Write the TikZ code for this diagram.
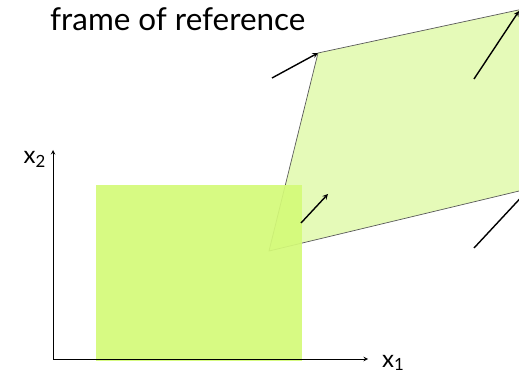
\documentclass[tikz,border=0pt]{standalone}
\usepackage{fontspec}
\setmainfont{Lato}
\definecolor{limesq}{HTML}{D4FA78}
\definecolor{limepg}{HTML}{E5FAB8}
\tikzset{
  vec/.style={->, >=stealth, line width=1.4pt},
  axis/.style={->, >=stealth, line width=1pt},
  lbl/.style={font=\fontsize{24}{26}\selectfont, inner sep=0pt}
}
\begin{document}
\begin{tikzpicture}[x=1pt, y=-1pt]
        \useasboundingbox (0,0) rectangle (519,374);
        \clip (0,0) rectangle (519,374);

        % Title
        \node[anchor=base west, inner sep=0pt, font=\fontsize{31.4}{33}\selectfont] (title) at (50,31) {frame of reference};

        % Transformed frame
        \coordinate (pa) at (269,251);
        \coordinate (pb) at (318,53);
        \coordinate (pc) at (565,0);
        \coordinate (pd) at (565,180);
        \fill[limepg] (pa) -- (pb) -- (pc) -- (pd) -- cycle;
        \draw[gray!70!black, line width=0.7pt] (pd) -- (pa) -- (pb) -- (pc);

        % Original square
        \fill[limesq, opacity=0.92] (96,185) rectangle (302,361);

        % Axes
        \coordinate (o) at (53,359);
        \coordinate (xend) at (368,359);
        \coordinate (yend) at (53,150);
        \draw[axis] (o) -- (xend);
        \draw[axis] (o) -- (yend);
        \node[lbl, anchor=base west] (xone) at (382,367) {x\textsubscript{1}};
        \node[lbl, anchor=base east] (xtwo) at (46,164) {x\textsubscript{2}};

        % Vectors at the corners
        \coordinate (v1s) at (272,78);
        \coordinate (v2s) at (474,79);
        \coordinate (v2e) at (519,11);
        \coordinate (v3s) at (301,223);
        \coordinate (v3e) at (328,194);
        \coordinate (v4s) at (474,248);
        \coordinate (v4e) at (528,190);
        \draw[vec] (v1s) -- (pb);
        \draw[vec] (v2s) -- (v2e);
        \draw[vec] (v3s) -- (v3e);
        \draw[vec] (v4s) -- (v4e);
    \end{tikzpicture}
\end{document}
